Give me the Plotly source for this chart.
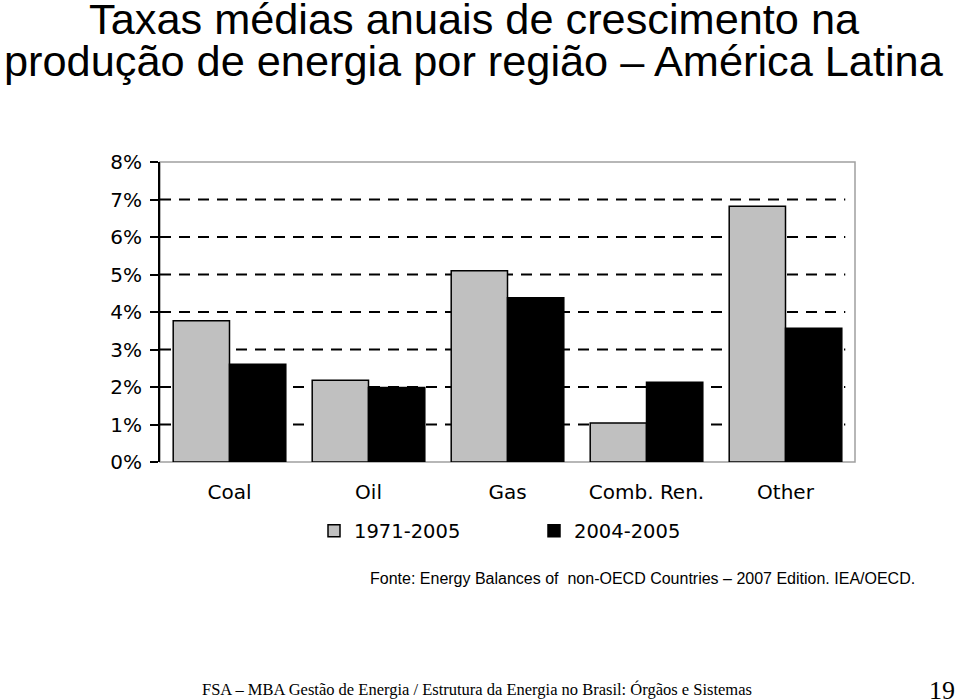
import plotly.graph_objects as go

# ---- data ----
categories = ["Coal", "Oil", "Gas", "Comb. Ren.", "Other"]
series_names = ["1971-2005", "2004-2005"]
rate_1971_2005 = [3.77, 2.18, 5.10, 1.04, 6.82]
rate_2004_2005 = [2.61, 1.99, 4.38, 2.13, 3.57]
y_tick_values = [0, 1, 2, 3, 4, 5, 6, 7, 8]
y_tick_labels = ["0%", "1%", "2%", "3%", "4%", "5%", "6%", "7%", "8%"]
grid_values = [1, 2, 3, 4, 5, 6, 7]

title_line1 = "Taxas médias anuais de crescimento na"
title_line2 = "produção de energia por região – América Latina"
source_text = "Fonte: Energy Balances of  non-OECD Countries – 2007 Edition. IEA/OECD."
footer_text = "FSA – MBA Gestão de Energia / Estrutura da Energia no Brasil: Órgãos e Sistemas"
page_number = "19"

# ---- layout geometry (pixels) ----
W, H = 960, 700
L, R, T, B = 160, 105, 162, 238
PW = W - L - R
PH = H - T - B


def px_x(px):
    return (px - L) / PW


def px_y(py):
    return (H - B - py) / PH


SANS = "Liberation Sans, Arial, Helvetica, sans-serif"
WIDE = "DejaVu Sans, Liberation Sans, Arial, sans-serif"
SERIF = "Liberation Serif, Times New Roman, serif"

fig = go.Figure()
fig.add_trace(go.Bar(
    x=categories, y=rate_1971_2005, name=series_names[0],
    marker=dict(color="#c0c0c0", line=dict(color="#000000", width=1.5)),
))
fig.add_trace(go.Bar(
    x=categories, y=rate_2004_2005, name=series_names[1],
    marker=dict(color="#000000", line=dict(color="#000000", width=1.5)),
))

shapes = [
    dict(type="rect", xref="paper", yref="paper", x0=0, x1=1, y0=0, y1=1,
         line=dict(color="#a0a0a0", width=1.5), layer="below"),
]
for g in grid_values:
    shapes.append(dict(type="line", xref="paper", yref="y", x0=0, x1=0.986, y0=g, y1=g,
                       line=dict(color="#000000", width=2, dash="11px,8px"), layer="below"))

annotations = [
    dict(text=title_line1, x=px_x(474), y=px_y(19), xref="paper", yref="paper",
         xanchor="center", yanchor="middle", showarrow=False,
         font=dict(family=SANS, size=43.3, color="#000000")),
    dict(text=title_line2, x=px_x(474), y=px_y(61), xref="paper", yref="paper",
         xanchor="center", yanchor="middle", showarrow=False,
         font=dict(family=SANS, size=43.3, color="#000000")),
    dict(text=source_text, x=px_x(368), y=px_y(578), xref="paper", yref="paper",
         xanchor="left", yanchor="middle", showarrow=False,
         font=dict(family=SANS, size=16, color="#000000")),
    dict(text=footer_text, x=px_x(200), y=px_y(689), xref="paper", yref="paper",
         xanchor="left", yanchor="middle", showarrow=False,
         font=dict(family=SERIF, size=16.5, color="#000000")),
    dict(text=page_number, x=px_x(957), y=px_y(690), xref="paper", yref="paper",
         xanchor="right", yanchor="middle", showarrow=False,
         font=dict(family=SERIF, size=26, color="#000000")),
]

fig.update_layout(
    width=W, height=H,
    margin=dict(l=L, r=R, t=T, b=B, pad=0),
    paper_bgcolor="#ffffff", plot_bgcolor="#ffffff",
    barmode="group", bargap=0.19, bargroupgap=0,
    showlegend=True,
    legend=dict(orientation="h", x=px_x(314), y=px_y(531), xanchor="left", yanchor="middle",
                entrywidth=175, entrywidthmode="pixels",
                font=dict(family=WIDE, size=19.5, color="#000000"),
                bgcolor="rgba(0,0,0,0)", traceorder="normal"),
    xaxis=dict(showline=False, ticks="", showgrid=False, zeroline=False,
               tickfont=dict(family=WIDE, size=20, color="#000000"),
               ticklabelstandoff=16),
    yaxis=dict(range=[0, 8], tickvals=y_tick_values, ticktext=y_tick_labels,
               showgrid=False, zeroline=False, showline=True, linecolor="#000000", linewidth=2,
               ticks="outside", ticklen=8, tickwidth=1.5, tickcolor="#000000",
               tickfont=dict(family=WIDE, size=20, color="#000000"),
               ticklabelstandoff=4),
    shapes=shapes,
    annotations=annotations,
)

fig.write_html("out.html", config={"displayModeBar": False},
               post_script="document.body.style.margin='0';document.body.style.overflow='hidden';")
